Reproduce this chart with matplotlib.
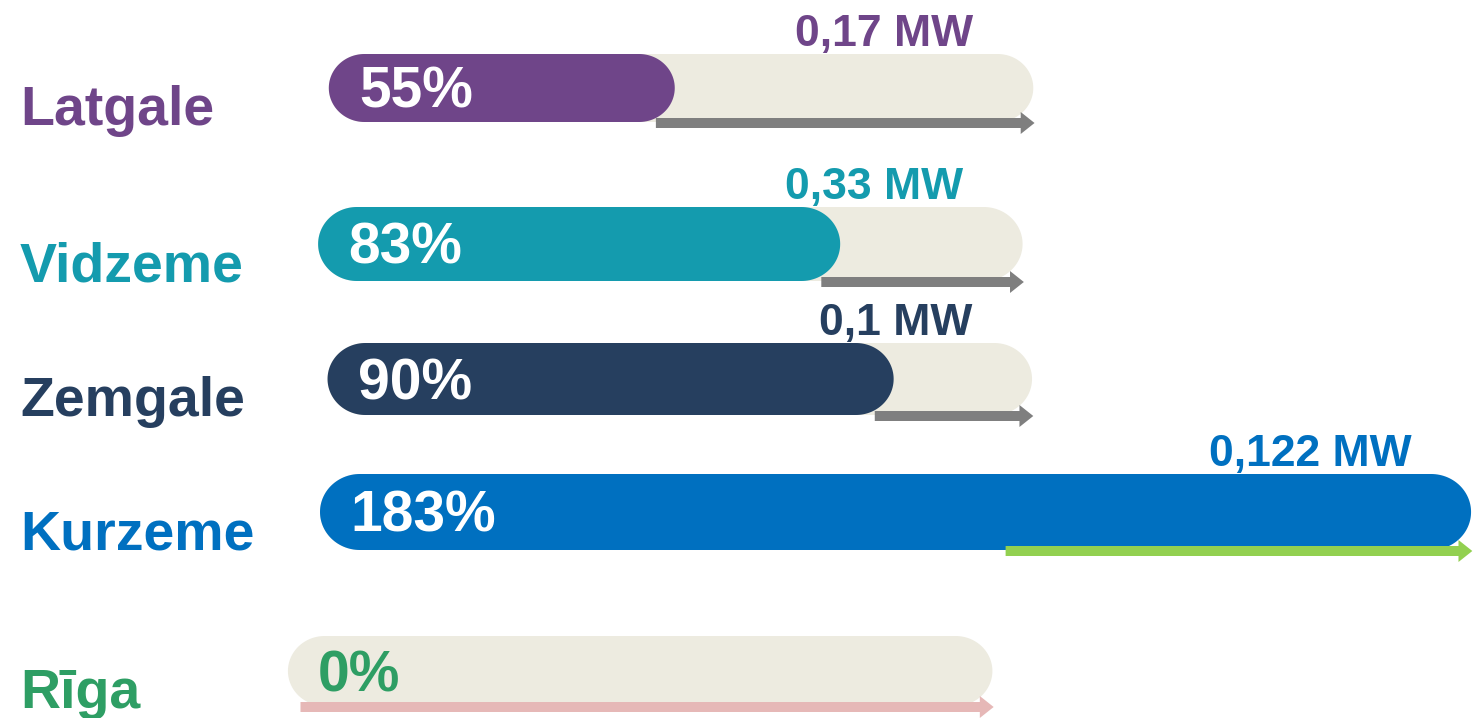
import numpy as np
import matplotlib
matplotlib.use("Agg")
import matplotlib.pyplot as plt
from matplotlib.patches import Polygon, FancyArrow

# Data
regions = ["Latgale", "Vidzeme", "Zemgale", "Kurzeme", "Rīga"]
share_pct = [55, 83, 90, 183, 0]
capacity_labels = ["0,17 MW", "0,33 MW", "0,1 MW", "0,122 MW", ""]

# Layout (y axis in pixel rows, x axis in percent)
W, H = 1473, 718
PX = 6.29                     # pixels per percent
X0 = 320                      # pixel where 0 % sits
TRACK = 112                   # length of the light background track, %
row_y = [88, 244, 379, 512, 671]
row_h = [68, 74, 72, 76, 70]
row_shift = [1.4, -0.3, 1.2, 0.0, -5.1]

colors = ["#6F4589", "#149BAE", "#263F5F", "#0070C0", "#2E9E64"]
arrow_colors = ["#7F7F7F", "#7F7F7F", "#7F7F7F", "#92D050", "#E6B8B7"]
TRACK_COLOR = "#EDEBE0"
FONT = ["Liberation Sans", "DejaVu Sans"]


def pill(ax, x, y, w, h, color, z):
    """Bar with half-round ends; x, w in percent, y, h in pixel rows."""
    rx = min(h / 2 / PX * 1.05, w / 2)
    t = np.linspace(-np.pi / 2, np.pi / 2, 60)
    right = np.column_stack([x + w - rx + rx * np.cos(t), y + h / 2 * np.sin(t)])
    left = np.column_stack([x + rx - rx * np.cos(t), y - h / 2 * np.sin(t)])
    ax.add_patch(Polygon(np.vstack([right, left]), closed=True,
                         fc=color, ec="none", zorder=z))


fig = plt.figure(figsize=(W / 100, H / 100), dpi=100)
ax = fig.add_axes([0, 0, 1, 1])
ax.set_xlim(-X0 / PX, (W - X0) / PX)
ax.set_ylim(H, 0)
ax.axis("off")

for i, name in enumerate(regions):
    v = share_pct[i]
    y = row_y[i]
    h = row_h[i]
    s = row_shift[i]

    # background track and value bar
    pill(ax, s, y, TRACK, h, TRACK_COLOR, 1)
    if v > 0:
        pill(ax, s, y, v, h, colors[i], 2)

    # arrow between bar end and track end
    a0 = max(min(v, TRACK) - 3, 2) + s
    a1 = max(v, TRACK) + s + 0.2
    ay = y + h / 2 + 1
    ax.add_patch(FancyArrow(a0, ay, a1 - a0, 0, width=10, head_width=22,
                            head_length=2.2, length_includes_head=True,
                            fc=arrow_colors[i], ec="none", zorder=3))

    # percent inside the bar
    ax.text(s + 4.8, y + 20, f"{v}%", fontsize=41, fontweight="bold",
            family=FONT, color="white" if v > 0 else colors[i],
            ha="left", va="baseline", zorder=4)

    # capacity above the bar end
    if capacity_labels[i]:
        ax.text(max(v, TRACK) + s - 9.5, y - h / 2 - 8, capacity_labels[i],
                fontsize=32, fontweight="bold", family=FONT, color=colors[i],
                ha="right", va="baseline", zorder=4)

    # region name on the left
    ax.text((20 - X0) / PX, y + 37, name, fontsize=40, fontweight="bold",
            family=FONT, color=colors[i], ha="left", va="baseline")

fig.savefig("out.png", dpi=100)
